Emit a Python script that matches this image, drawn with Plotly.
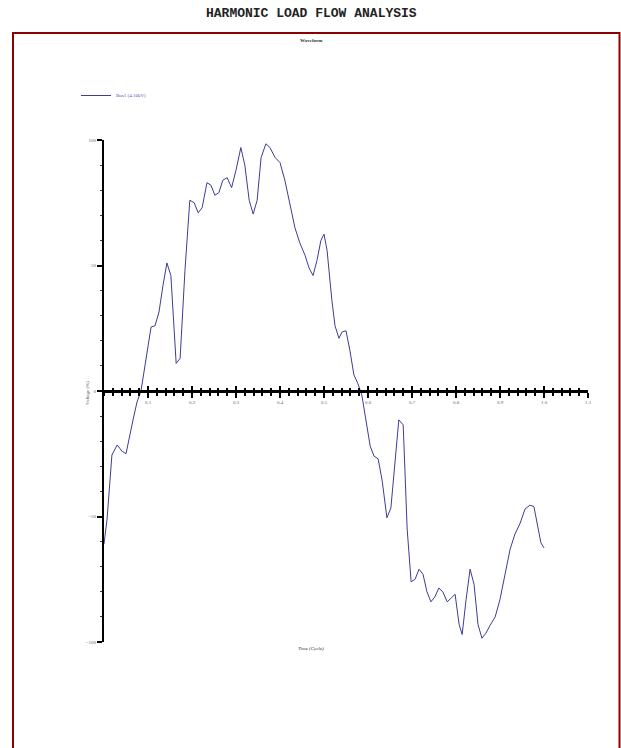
import plotly.graph_objects as go

# Data (time in cycles, voltage in %)
time_cycle = [0.000, 0.007, 0.018, 0.030, 0.041, 0.050, 0.066, 0.075, 0.084, 0.095,
              0.107, 0.116, 0.125, 0.134, 0.143, 0.152, 0.164, 0.173, 0.184, 0.195,
              0.205, 0.214, 0.223, 0.234, 0.243, 0.252, 0.261, 0.270, 0.280, 0.290,
              0.300, 0.311, 0.320, 0.330, 0.339, 0.348, 0.357, 0.368, 0.377, 0.389,
              0.400, 0.411, 0.423, 0.434, 0.445, 0.457, 0.466, 0.475, 0.484, 0.493,
              0.500, 0.507, 0.518, 0.525, 0.534, 0.541, 0.550, 0.559, 0.568, 0.577,
              0.586, 0.595, 0.605, 0.614, 0.623, 0.632, 0.643, 0.652, 0.661, 0.670,
              0.680, 0.689, 0.698, 0.707, 0.716, 0.725, 0.734, 0.743, 0.752, 0.761,
              0.770, 0.780, 0.789, 0.798, 0.807, 0.814, 0.823, 0.832, 0.841, 0.850,
              0.859, 0.868, 0.877, 0.889, 0.900, 0.911, 0.923, 0.934, 0.945, 0.957,
              0.968, 0.977, 0.986, 0.993, 1.000]
voltage_pct = [-61.0, -51.0, -25.5, -21.5, -24.0, -25.0, -11.5, -4.4, 0.0, 12.0,
               25.5, 26.0, 31.5, 42.0, 51.0, 46.0, 11.0, 13.0, 48.0, 76.0,
               75.0, 71.0, 73.0, 83.0, 82.0, 78.0, 79.0, 84.0, 85.0, 81.0,
               88.0, 97.0, 90.0, 76.0, 70.5, 76.0, 93.0, 98.5, 97.0, 93.0,
               91.0, 84.0, 74.0, 65.0, 59.0, 54.0, 49.0, 46.0, 52.0, 60.0,
               62.5, 56.0, 36.0, 26.0, 21.0, 23.5, 24.0, 16.0, 6.4, 3.0,
               -1.6, -11.5, -22.0, -26.0, -27.0, -35.5, -50.5, -46.6, -27.5, -11.5,
               -13.5, -55.0, -76.0, -75.0, -71.0, -73.0, -80.0, -84.0, -82.0, -78.5,
               -80.0, -84.0, -82.5, -81.0, -93.0, -97.0, -83.0, -71.0, -77.0, -93.0,
               -98.5, -96.5, -93.5, -90.0, -83.0, -73.0, -63.0, -57.0, -53.0, -47.0,
               -45.5, -46.0, -54.5, -60.5, -62.5]

x_tick_vals = [0.1, 0.2, 0.3, 0.4, 0.5, 0.6, 0.7, 0.8, 0.9, 1.0, 1.1]
y_tick_vals = [-100, -50, 0, 50, 100]
series_name = "Bus1 (4.16kV)"

W, H = 621, 748
L, R, T, B = 104, 33, 140, 106
pw, ph = W - L - R, H - T - B


def px_x(p):
    return (p - L) / pw


def px_y(p):
    return (H - B - p) / ph


fig = go.Figure()
fig.add_trace(go.Scatter(x=time_cycle, y=voltage_pct, mode="lines", name=series_name,
                         line=dict(color="#3c3c96", width=1)))
# carrier trace for the overlay axis that draws the upper half of the crossing ticks
fig.add_trace(go.Scatter(x=time_cycle, y=voltage_pct, mode="lines", xaxis="x2",
                         line=dict(width=0), showlegend=False, hoverinfo="skip"))

tickfont = dict(family="Liberation Serif", size=5, color="#666")

fig.update_layout(
    width=W, height=H,
    margin=dict(l=L, r=R, t=T, b=B),
    paper_bgcolor="white", plot_bgcolor="white",
    showlegend=True,
    legend=dict(x=px_x(76), y=px_y(81), xanchor="left", yanchor="top",
                font=dict(family="Liberation Serif", size=5, color="#5050b0"),
                itemwidth=30, bgcolor="rgba(0,0,0,0)", tracegroupgap=0),
    xaxis=dict(range=[0, 1.1], anchor="free", position=0.5, showgrid=False, zeroline=False,
               showline=True, linewidth=3, linecolor="black",
               ticks="outside", ticklen=5, tickwidth=2, tickcolor="black",
               tickvals=x_tick_vals, tickformat=".1f", tickfont=tickfont,
               minor=dict(dtick=0.02, ticks="outside", ticklen=3, tickwidth=2, tickcolor="black")),
    xaxis2=dict(range=[0, 1.1], overlaying="x", anchor="free", position=0.5, showgrid=False,
                zeroline=False, showline=False, ticks="inside", ticklen=5, tickwidth=2,
                tickcolor="black", tickvals=x_tick_vals, showticklabels=False,
                minor=dict(dtick=0.02, ticks="inside", ticklen=3, tickwidth=2, tickcolor="black")),
    yaxis=dict(range=[-100, 100], showgrid=False, zeroline=False,
               showline=True, linewidth=2, linecolor="black",
               ticks="outside", ticklen=5, tickwidth=2, tickcolor="black",
               tickvals=y_tick_vals, tickfont=tickfont,
               minor=dict(dtick=10, ticks="outside", ticklen=2, tickwidth=1, tickcolor="#444")),
    shapes=[dict(type="rect", xref="paper", yref="paper",
                 x0=px_x(13), x1=px_x(619.5), y0=px_y(800), y1=px_y(33),
                 line=dict(color="#8b0000", width=2), fillcolor="rgba(0,0,0,0)", layer="below")],
    annotations=[
        dict(text="<b>HARMONIC LOAD FLOW ANALYSIS</b>", x=px_x(311), y=px_y(13),
             xref="paper", yref="paper", showarrow=False, xanchor="center", yanchor="middle",
             font=dict(family="Liberation Mono", size=13, color="#222")),
        dict(text="<b>Waveform</b>", x=px_x(311), y=px_y(41),
             xref="paper", yref="paper", showarrow=False, xanchor="center", yanchor="middle",
             font=dict(family="Liberation Serif", size=5, color="#333")),
        dict(text="Voltage (%)", x=px_x(87), y=px_y(393), textangle=-90,
             xref="paper", yref="paper", showarrow=False, xanchor="center", yanchor="middle",
             font=dict(family="Liberation Serif", size=5, color="#555")),
        dict(text="<i>Time (Cycle)</i>", x=px_x(311), y=px_y(648),
             xref="paper", yref="paper", showarrow=False, xanchor="center", yanchor="middle",
             font=dict(family="Liberation Serif", size=5, color="#333")),
    ],
)

fig.write_html("out.html", config={"displayModeBar": False},
               post_script="document.body.style.margin='0';document.body.style.overflow='hidden';")
